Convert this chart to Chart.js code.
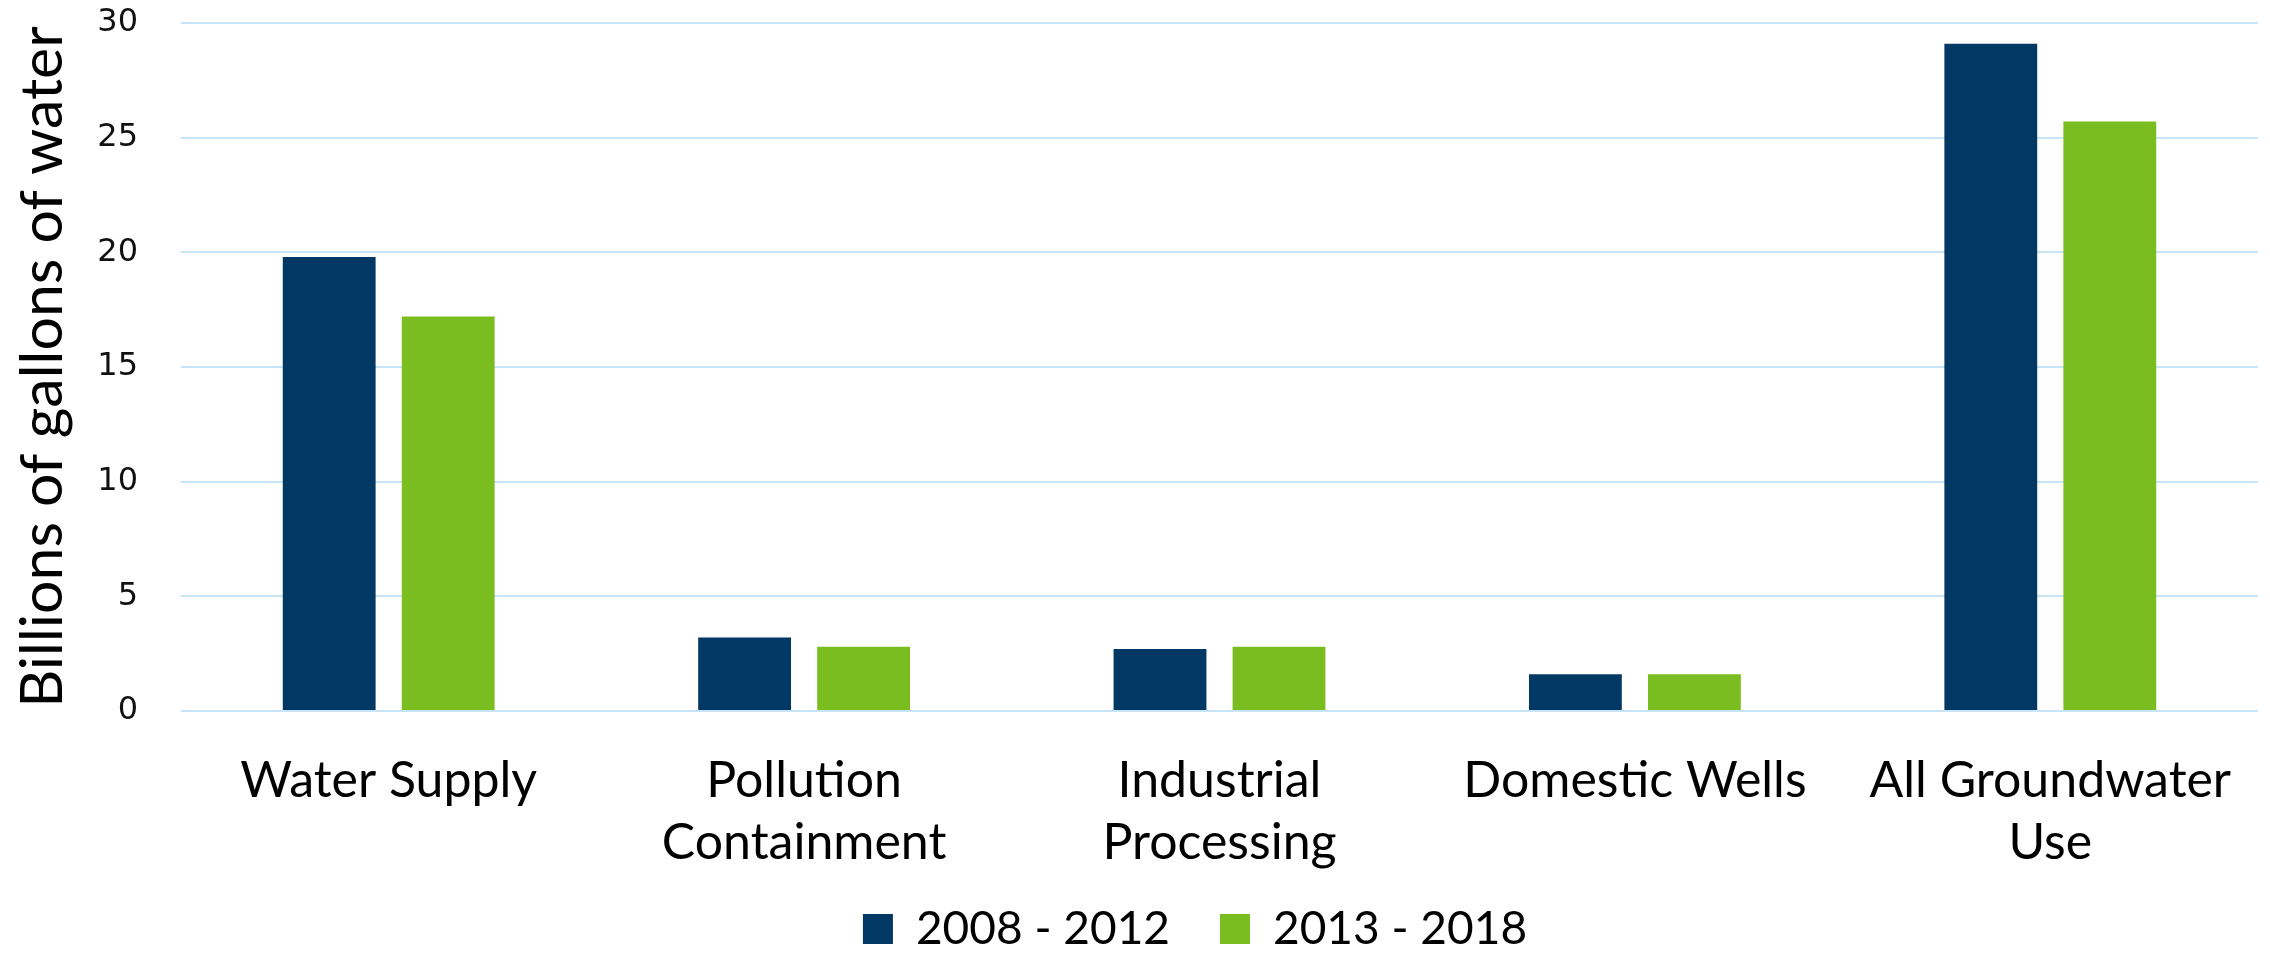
<!DOCTYPE html>
<html>
<head>
<meta charset="utf-8">
<script src="https://cdn.jsdelivr.net/npm/chart.js@4.4.1/dist/chart.umd.min.js"></script>
<style>
  html, body { margin: 0; padding: 0; background: #fff; }
  #wrap { width: 2270px; height: 953px; position: relative; }
</style>
</head>
<body>
<div id="wrap"><canvas id="waterChart"></canvas></div>
<script>
// Groundwater use by category (billions of gallons)
const categories = [
    "Water Supply",
    ["Pollution", "Containment"],
    ["Industrial", "Processing"],
    "Domestic Wells",
    ["All Groundwater", "Use"]
];
const seriesLabels = ["2008 - 2012", "2013 - 2018"];
const values2008 = [19.8, 3.2, 2.7, 1.6, 29.1];
const values2013 = [17.2, 2.8, 2.8, 1.6, 25.7];
const yTicks = [0, 5, 10, 15, 20, 25, 30];

const navy = "#023864";
const green = "#79BD21";
const gridBlue = "#C8E4F9";

const canvas = document.getElementById("waterChart");

// keep the legend short so the x labels get room, then place it like the original
const legendTweak = {
    id: "legendTweak",
    beforeInit(chart) {
        const fit = chart.legend.fit;
        chart.legend.fit = function () {
            fit.bind(chart.legend)();
            this.height = 65;
        };
    },
    afterLayout(chart) {
        const lg = chart.legend;
        lg.left += 66;
        lg.right += 66;
        lg.top = 856;
        lg.bottom = 953;
    }
};

new Chart(canvas, {
    type: "bar",
    data: {
        labels: categories,
        datasets: [
            { label: seriesLabels[0], data: values2008, backgroundColor: navy },
            { label: seriesLabels[1], data: values2013, backgroundColor: green }
        ]
    },
    options: {
        responsive: true,
        maintainAspectRatio: false,
        animation: false,
        categoryPercentage: 0.573,
        barPercentage: 0.78,
        layout: { padding: { top: 23, right: 12, left: 0, bottom: 0 } },
        plugins: {
            legend: {
                position: "bottom",
                labels: {
                    boxWidth: 30,
                    boxHeight: 30,
                    padding: 50,
                    color: "#000",
                    font: { family: "Lato", size: 46 }
                }
            },
            tooltip: { enabled: false }
        },
        scales: {
            x: {
                grid: { display: false },
                border: { display: false },
                ticks: {
                    color: "#000",
                    padding: 31,
                    maxRotation: 0,
                    autoSkip: false,
                    font: { family: "Lato", size: 50, lineHeight: 1.24 }
                },
                afterFit: scale => {
                    scale.height = 177;
                    scale.paddingLeft = 0;
                    scale.paddingRight = 0;
                }
            },
            y: {
                min: 0,
                max: 30,
                afterBuildTicks: scale => { scale.ticks = yTicks.map(v => ({ value: v })); },
                grid: { color: gridBlue, lineWidth: 2, drawTicks: false },
                border: { display: false },
                ticks: {
                    color: "#111",
                    padding: 43,
                    font: { family: "DejaVu Sans", size: 32 }
                },
                title: {
                    display: true,
                    text: "Billions of gallons of water",
                    color: "#000",
                    padding: { top: 8, bottom: 0 },
                    font: { family: "Lato", size: 59 }
                },
                afterFit: scale => {
                    scale.width = 181;
                    scale.paddingTop = 0;
                    scale.paddingBottom = 0;
                }
            }
        }
    },
    plugins: [legendTweak]
});
</script>
</body>
</html>
